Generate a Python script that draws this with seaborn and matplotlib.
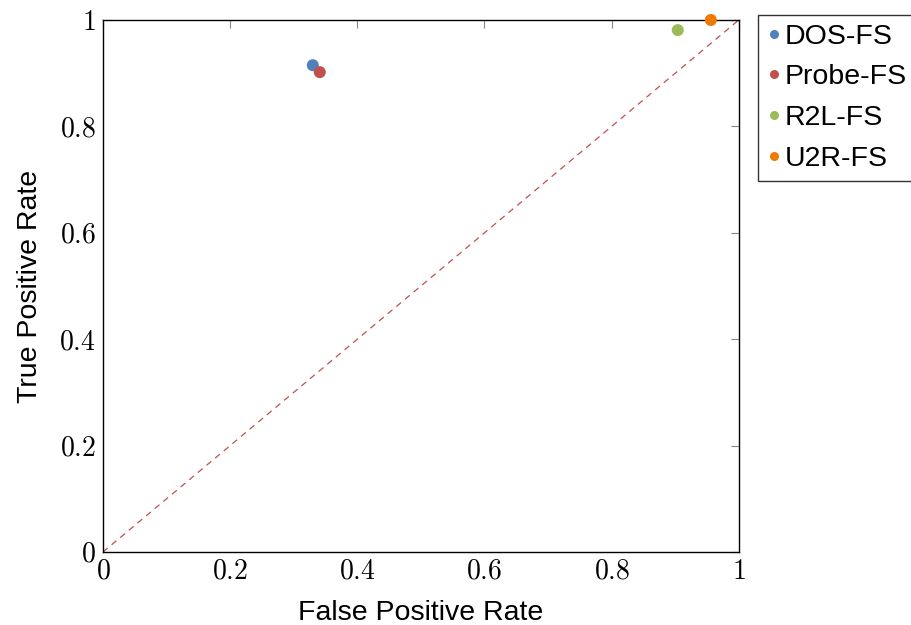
import numpy as np
import pandas as pd
import matplotlib
matplotlib.use('Agg')
import matplotlib.pyplot as plt
import seaborn as sns

# ROC points per detector
methods = ['DOS-FS', 'Probe-FS', 'R2L-FS', 'U2R-FS']
fpr = [0.330, 0.341, 0.904, 0.956]
tpr = [0.915, 0.902, 0.981, 1.000]
colors = ['#4F81BD', '#C0504D', '#9BBB59', '#F07A00']

df = pd.DataFrame({'method': methods, 'fpr': fpr, 'tpr': tpr})

sns.set_theme(style='white')
plt.rcParams['font.family'] = ['Liberation Sans', 'DejaVu Sans']
plt.rcParams['mathtext.fontset'] = 'cm'
plt.rcParams['text.color'] = 'black'
plt.rcParams['axes.labelcolor'] = 'black'
plt.rcParams['xtick.labelcolor'] = 'black'
plt.rcParams['ytick.labelcolor'] = 'black'

fig = plt.figure(figsize=(9.11, 6.25), dpi=100)
ax = fig.add_axes([0.113, 0.1168, 0.698, 0.8512])

# chance diagonal
ax.plot([0, 1], [0, 1], ls=(0, (5, 4)), color='#C0504D', lw=0.9, zorder=1)

sns.scatterplot(data=df, x='fpr', y='tpr', hue='method', palette=colors,
                s=75, edgecolor='none', ax=ax, zorder=3, clip_on=False)

ax.set_xlim(0, 1)
ax.set_ylim(0, 1)
ticks = [0, 0.2, 0.4, 0.6, 0.8, 1]
ax.set_xticks(ticks)
ax.set_yticks(ticks)
labels = ['$%g$' % t for t in ticks]
ax.set_xticklabels(labels, fontsize=20)
ax.set_yticklabels(labels, fontsize=20)
ax.tick_params(direction='in', length=6, width=0.8, color='#888888',
               top=True, right=True, pad=5)
for sp in ax.spines.values():
    sp.set_color('black')
    sp.set_linewidth(1.0)

ax.set_xlabel('False Positive Rate', fontsize=20.5, labelpad=11)
ax.set_ylabel('True Positive Rate', fontsize=20.5, labelpad=12)

leg = ax.legend(loc='upper left', bbox_to_anchor=(0.832, 0.976),
                bbox_transform=fig.transFigure, fontsize=20.5, frameon=True,
                fancybox=False, edgecolor='black', handletextpad=0.15,
                borderpad=0.3, labelspacing=0.52, handlelength=0.5,
                borderaxespad=0, markerscale=0.75, title=None)
leg.get_frame().set_linewidth(1.0)

fig.savefig('out.png', dpi=100)
